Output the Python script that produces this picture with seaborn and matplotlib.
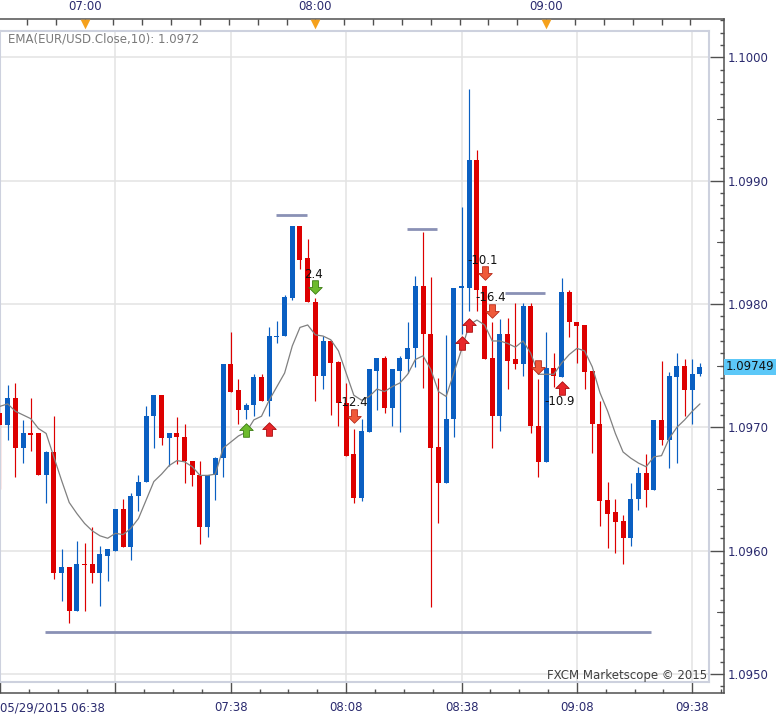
import numpy as np
import pandas as pd
import matplotlib
matplotlib.use('Agg')
import matplotlib.pyplot as plt
import matplotlib.transforms as mtrans
from matplotlib.path import Path
from matplotlib.ticker import FixedLocator, MultipleLocator
import seaborn as sns

sns.set_style('white')
plt.rcParams['font.family'] = ['DejaVu Sans']

# EUR/USD, 2 minute candles from 05/29/2015 06:38
opens = [1.09712, 1.09702, 1.09724, 1.09683, 1.09695, 1.09695, 1.09661, 1.09680, 1.09582, 1.09587,
         1.09551, 1.09589, 1.09589, 1.09582, 1.09596, 1.09600, 1.09634, 1.09603, 1.09644, 1.09656,
         1.09709, 1.09726, 1.09691, 1.09695, 1.09692, 1.09673, 1.09661, 1.09619, 1.09661, 1.09675,
         1.09751, 1.09730, 1.09714, 1.09718, 1.09741, 1.09721, 1.09773, 1.09774, 1.09805, 1.09863,
         1.09837, 1.09802, 1.09742, 1.09770, 1.09753, 1.09720, 1.09678, 1.09643, 1.09696, 1.09746,
         1.09756, 1.09716, 1.09746, 1.09755, 1.09764, 1.09815, 1.09776, 1.09684, 1.09655, 1.09707,
         1.09813, 1.09813, 1.09917, 1.09815, 1.09756, 1.09709, 1.09776, 1.09755, 1.09751, 1.09798,
         1.09701, 1.09672, 1.09748, 1.09741, 1.09810, 1.09785, 1.09783, 1.09746, 1.09703, 1.09641,
         1.09631, 1.09624, 1.09610, 1.09642, 1.09663, 1.09649, 1.09706, 1.09690, 1.09741, 1.09750,
         1.09730, 1.09743]
highs = [1.09712, 1.09734, 1.09736, 1.09706, 1.09724, 1.09695, 1.09681, 1.09709, 1.09601, 1.09587,
         1.09608, 1.09606, 1.09619, 1.09604, 1.09601, 1.09634, 1.09642, 1.09647, 1.09661, 1.09717,
         1.09726, 1.09726, 1.09695, 1.09708, 1.09703, 1.09673, 1.09673, 1.09661, 1.09676, 1.09751,
         1.09777, 1.09739, 1.09720, 1.09743, 1.09743, 1.09781, 1.09786, 1.09807, 1.09863, 1.09863,
         1.09853, 1.09805, 1.09774, 1.09771, 1.09754, 1.09736, 1.09699, 1.09707, 1.09747, 1.09756,
         1.09758, 1.09747, 1.09758, 1.09785, 1.09823, 1.09858, 1.09822, 1.09740, 1.09775, 1.09813,
         1.09879, 1.09974, 1.09925, 1.09815, 1.09785, 1.09788, 1.09789, 1.09801, 1.09801, 1.09801,
         1.09739, 1.09777, 1.09760, 1.09821, 1.09811, 1.09785, 1.09783, 1.09746, 1.09721, 1.09656,
         1.09642, 1.09629, 1.09655, 1.09668, 1.09678, 1.09706, 1.09754, 1.09745, 1.09760, 1.09755,
         1.09755, 1.09752]
lows = [1.09650, 1.09690, 1.09660, 1.09671, 1.09681, 1.09661, 1.09639, 1.09577, 1.09559, 1.09541,
        1.09551, 1.09551, 1.09574, 1.09555, 1.09575, 1.09600, 1.09603, 1.09592, 1.09632, 1.09656,
        1.09683, 1.09686, 1.09669, 1.09670, 1.09655, 1.09652, 1.09605, 1.09611, 1.09641, 1.09660,
        1.09729, 1.09703, 1.09707, 1.09709, 1.09721, 1.09709, 1.09768, 1.09774, 1.09803, 1.09828,
        1.09802, 1.09721, 1.09731, 1.09710, 1.09701, 1.09677, 1.09639, 1.09640, 1.09696, 1.09714,
        1.09712, 1.09701, 1.09696, 1.09744, 1.09749, 1.09732, 1.09554, 1.09622, 1.09655, 1.09692,
        1.09776, 1.09794, 1.09794, 1.09755, 1.09683, 1.09697, 1.09731, 1.09747, 1.09742, 1.09695,
        1.09660, 1.09672, 1.09733, 1.09741, 1.09773, 1.09752, 1.09731, 1.09679, 1.09620, 1.09602,
        1.09598, 1.09589, 1.09604, 1.09633, 1.09635, 1.09649, 1.09686, 1.09667, 1.09671, 1.09709,
        1.09703, 1.09742]
closes = [1.09702, 1.09724, 1.09683, 1.09695, 1.09694, 1.09661, 1.09680, 1.09582, 1.09587, 1.09551,
          1.09589, 1.09588, 1.09582, 1.09597, 1.09601, 1.09634, 1.09603, 1.09644, 1.09656, 1.09709,
          1.09726, 1.09691, 1.09695, 1.09692, 1.09673, 1.09661, 1.09619, 1.09661, 1.09675, 1.09751,
          1.09729, 1.09714, 1.09718, 1.09741, 1.09721, 1.09774, 1.09774, 1.09806, 1.09863, 1.09836,
          1.09802, 1.09742, 1.09770, 1.09752, 1.09720, 1.09677, 1.09643, 1.09697, 1.09747, 1.09756,
          1.09716, 1.09747, 1.09756, 1.09764, 1.09815, 1.09776, 1.09683, 1.09655, 1.09707, 1.09813,
          1.09814, 1.09917, 1.09811, 1.09755, 1.09709, 1.09776, 1.09754, 1.09751, 1.09798, 1.09701,
          1.09672, 1.09748, 1.09742, 1.09810, 1.09785, 1.09782, 1.09745, 1.09703, 1.09640, 1.09630,
          1.09623, 1.09610, 1.09642, 1.09663, 1.09649, 1.09706, 1.09690, 1.09742, 1.09750, 1.09730,
          1.09743, 1.09749]
ema10 = [1.09717, 1.09719, 1.09713, 1.09710, 1.09707, 1.09699, 1.09695, 1.09676, 1.09657, 1.09639,
         1.09630, 1.09622, 1.09616, 1.09612, 1.09610, 1.09614, 1.09613, 1.09618, 1.09626, 1.09641,
         1.09656, 1.09662, 1.09669, 1.09673, 1.09672, 1.09668, 1.09661, 1.09661, 1.09662, 1.09683,
         1.09688, 1.09693, 1.09696, 1.09706, 1.09709, 1.09722, 1.09733, 1.09744, 1.09766, 1.09781,
         1.09783, 1.09775, 1.09774, 1.09771, 1.09762, 1.09744, 1.09726, 1.09722, 1.09725, 1.09731,
         1.09729, 1.09733, 1.09736, 1.09743, 1.09755, 1.09758, 1.09747, 1.09729, 1.09725, 1.09744,
         1.09763, 1.09783, 1.09787, 1.09783, 1.09770, 1.09770, 1.09768, 1.09765, 1.09770, 1.09760,
         1.09743, 1.09743, 1.09743, 1.09752, 1.09759, 1.09764, 1.09762, 1.09749, 1.09728, 1.09713,
         1.09695, 1.09680, 1.09675, 1.09671, 1.09668, 1.09676, 1.09677, 1.09691, 1.09700, 1.09706,
         1.09713, 1.09719]

# horizontal levels (price, from, to)
level_price = [1.09534, 1.09872, 1.09861, 1.09809]
level_from = ['06:49:42', '07:49:42', '08:23:42', '08:49:18']
level_to = ['09:27:18', '07:57:42', '08:31:30', '08:59:42']

# trade signals
sig_time = ['07:42', '07:48', '08:00', '08:10', '08:38', '08:40', '08:44', '08:46', '08:58', '09:04']
sig_price = [1.09698, 1.09699, 1.09814, 1.09709, 1.09768, 1.09783, 1.09825, 1.09794, 1.09749, 1.09732]
sig_dir = ['up', 'up', 'down', 'down', 'up', 'up', 'down', 'down', 'down', 'up']
sig_kind = ['green', 'red', 'green', 'red', 'red', 'red', 'red', 'red', 'red', 'red']
lbl_text = ['2.4', '-12.4', '-10.1', '-16.4', '-10.9']
lbl_time = ['07:59:30', '08:09:39', '08:43:27', '08:45:42', '09:03:36']
lbl_price = [1.09824, 1.09720, 1.09835, 1.09805, 1.09721]

price_ticks = [1.0950, 1.0960, 1.0970, 1.0980, 1.0990, 1.1000]
bottom_times = ['06:38', '07:08', '07:38', '08:08', '08:38', '09:08', '09:38']
bottom_labels = ['05/29/2015 06:38', '', '07:38', '08:08', '08:38', '09:08', '09:38']
top_times = ['07:00', '08:00', '09:00']
last_price = 1.09749
ema_caption = 'EMA(EUR/USD.Close,10): 1.0972'

t0 = pd.Timestamp('2015-05-29 06:38')
times = pd.date_range(t0, periods=len(opens), freq='2min')


def to_min(s):
    ts = pd.Timestamp(s) if isinstance(s, pd.Timestamp) else pd.Timestamp('2015-05-29 ' + s)
    return (ts - t0).total_seconds() / 60


x = np.array([to_min(t) for t in times])
o, h, l, c = map(np.array, (opens, highs, lows, closes))

BLUE = '#0a5fc2'
RED = '#dd0000'
AXIS = '#505050'
LABEL = '#2a2a6e'

W, H = 782, 720
PX_MIN = 3.846
PX_PRICE = 123300.0


def px_price(y):
    return 1.0970 + (427.3 - y) / PX_PRICE


def box(x0, x1, y0, y1):
    return [x0 / W, 1 - y1 / H, (x1 - x0) / W, (y1 - y0) / H]


fig = plt.figure(figsize=(W / 100, H / 100), dpi=100)

# outer frame with the time and price scales
ax_o = fig.add_axes(box(0, 724, 19, 693))
ax_o.set_xlim(0, 724 / PX_MIN)
ax_o.set_ylim(px_price(693), px_price(19))
ax_o.spines['left'].set_visible(False)
for s in ['top', 'bottom', 'right']:
    ax_o.spines[s].set_color(AXIS)
    ax_o.spines[s].set_linewidth(1.1)
ax_o.yaxis.tick_right()
ax_o.set_yticks(price_ticks)
ax_o.set_yticklabels(['%.4f' % p for p in price_ticks])
ax_o.yaxis.set_minor_locator(FixedLocator(np.round(np.arange(1.0949, 1.10035, 0.0001), 4)))
ax_o.tick_params(axis='y', which='major', direction='in', length=10, width=1, color=AXIS,
                 labelsize=8.5, labelcolor=LABEL, pad=3)
ax_o.tick_params(axis='y', which='minor', direction='in', length=3, width=1, color=AXIS)
ax_o.set_xticks([to_min(t) for t in bottom_times])
ax_o.set_xticklabels(bottom_labels)
ax_o.get_xticklabels()[0].set_horizontalalignment('left')
ax_o.xaxis.set_minor_locator(MultipleLocator(7.5))
ax_o.tick_params(axis='x', which='major', direction='in', length=8.5, width=1, color=AXIS,
                 labelsize=8.5, labelcolor=LABEL, pad=6)
ax_o.tick_params(axis='x', which='minor', direction='in', length=3, width=1, color=AXIS)

# medium ticks on the price scale
tr_r = mtrans.blended_transform_factory(ax_o.transAxes, ax_o.transData)
for p in [1.0955, 1.0965, 1.0975, 1.0985, 1.0995]:
    ax_o.plot([1 - 7 / 724, 1], [p, p], color=AXIS, lw=0.8, transform=tr_r, clip_on=False)

ax_t = ax_o.twiny()
ax_t.set_xlim(ax_o.get_xlim())
for s in ax_t.spines.values():
    s.set_visible(False)
top_pos = [to_min(t) for t in top_times]
ax_t.set_xticks(top_pos)
ax_t.set_xticklabels(top_times)
ax_t.xaxis.set_minor_locator(FixedLocator([top_pos[0] + 7.5 * k for k in range(-3, 22)]))
ax_t.tick_params(axis='x', which='both', direction='in', length=4.3, width=1, color=AXIS,
                 labelsize=8.5, labelcolor=LABEL, pad=4)
tr_t = mtrans.blended_transform_factory(ax_t.transData, ax_t.transAxes)
ax_t.scatter(top_pos, [1 - 4.5 / 674] * 3, marker='v', s=48, color='#f5a11c', transform=tr_t,
             clip_on=False, zorder=5, linewidths=0)

# price label box
ax_o.text(1 + 2 / 724, last_price, '%.5f' % last_price, transform=tr_r, ha='left', va='center',
          fontsize=8.5, color='#111111', clip_on=False,
          bbox=dict(boxstyle='square,pad=0.15', fc='#5cc8f8', ec='none'))

# plot area
ax = fig.add_axes(box(0, 709, 31, 682))
ax.set_xlim(0, 709 / PX_MIN)
ax.set_ylim(px_price(682), px_price(31))
ax.set_facecolor('white')
for s in ax.spines.values():
    s.set_color('#cdd1de')
    s.set_linewidth(1.5)
ax.set_xticks([to_min(t) for t in bottom_times])
ax.set_yticks(price_ticks)
ax.tick_params(length=0, labelbottom=False, labelleft=False)
ax.grid(True, color='#e3e3e3', lw=1.1)
ax.set_axisbelow(True)

up = c >= o
colors = np.where(up, BLUE, RED)
ax.vlines(x, l, h, colors=colors, lw=0.85, zorder=2)
body_lo = np.minimum(o, c)
body_h = np.maximum(np.abs(c - o), 0.000012)
ax.bar(x, body_h, bottom=body_lo, width=1.3, color=colors, lw=0, zorder=3)

sns.lineplot(x=x, y=ema10, color='#808080', lw=0.9, ax=ax, zorder=4)

ax.hlines(level_price, [to_min(t) for t in level_from], [to_min(t) for t in level_to],
          color='#8a91b5', lw=2, zorder=4)

up_arrow = Path([(-0.5, 0.0), (0.0, 0.5), (0.5, 0.0), (0.22, 0.0), (0.22, -0.5), (-0.22, -0.5),
                 (-0.22, 0.0), (-0.5, 0.0)], closed=True)
down_arrow = Path([(vx, -vy) for vx, vy in up_arrow.vertices], closed=True)
fills = {'green': ('#6cbb2c', '#3b7c12'), 'red': ('#e8262a', '#a80e0e')}
for t, p, d, k in zip(sig_time, sig_price, sig_dir, sig_kind):
    fc, ec = fills[k]
    if d == 'down' and k == 'red':
        fc, ec = '#ef5a3a', '#b82a1a'
    ax.scatter([to_min(t)], [p], marker=up_arrow if d == 'up' else down_arrow, s=95,
               facecolor=fc, edgecolor=ec, linewidths=0.6, zorder=6)
for s, t, p in zip(lbl_text, lbl_time, lbl_price):
    ax.text(to_min(t), p, s, ha='center', va='center', fontsize=8.5, color='#111111', zorder=7)

ax.text(8 / 709, 1 - 8 / 651, ema_caption, transform=ax.transAxes, ha='left', va='center',
        fontsize=8.5, color='#7a7a7a')
ax.text(707 / 709, 7 / 651, 'FXCM Marketscope \u00a9 2015', transform=ax.transAxes, ha='right',
        va='center', fontsize=8.5, color='#404040')

fig.savefig('out.png', dpi=100)
